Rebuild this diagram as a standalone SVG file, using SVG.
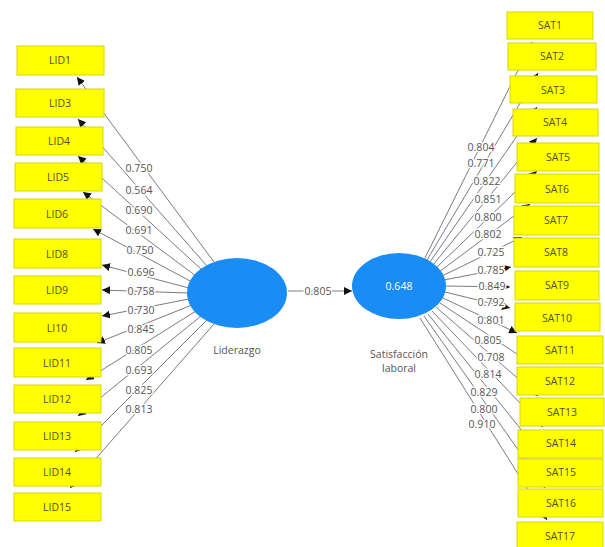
<svg xmlns="http://www.w3.org/2000/svg" width="605" height="547" viewBox="0 0 605 547">
<style>
.box{fill:#ffff00;stroke:#d6d600;stroke-width:1}
.bt{font-family:"Open Sans","DejaVu Sans",sans-serif;font-size:10.5px;fill:#505020;text-anchor:middle;dominant-baseline:central}
.ln{stroke:#7a7a86;stroke-width:1;fill:none;marker-end:url(#ah)}
.lb{font-family:"Open Sans","DejaVu Sans",sans-serif;font-size:10.5px;fill:#555;text-anchor:middle;dominant-baseline:central;stroke:#fff;stroke-width:3px;paint-order:stroke;stroke-linejoin:round}
.lv{fill:#1a8cf5}
.nl{font-family:"Open Sans","DejaVu Sans",sans-serif;font-size:10.5px;fill:#555;text-anchor:middle}
</style>
<defs>
<marker id="ah" viewBox="0 0 10 10" refX="10" refY="5" markerWidth="8" markerHeight="8" markerUnits="userSpaceOnUse" orient="auto">
<path d="M0,0 L10,5 L0,10 z" fill="#111"/>
</marker>
</defs>
<rect width="605" height="547" fill="#fff"/>
<g id="connectors">
<line class="ln" x1="214" y1="262" x2="77" y2="77"/>
<line class="ln" x1="207" y1="266" x2="78" y2="119"/>
<line class="ln" x1="202" y1="270" x2="78" y2="156"/>
<line class="ln" x1="196" y1="276" x2="83" y2="192"/>
<line class="ln" x1="192" y1="282" x2="93" y2="229"/>
<line class="ln" x1="189" y1="288" x2="102" y2="265"/>
<line class="ln" x1="188" y1="293" x2="102" y2="290"/>
<line class="ln" x1="189" y1="299" x2="102" y2="316"/>
<line class="ln" x1="192" y1="305" x2="97" y2="343"/>
<line class="ln" x1="196" y1="311" x2="86" y2="380"/>
<line class="ln" x1="201" y1="316" x2="78" y2="416"/>
<line class="ln" x1="207" y1="320" x2="75" y2="452"/>
<line class="ln" x1="214" y1="324" x2="70" y2="488"/>
<line class="ln" x1="425" y1="258" x2="532" y2="42"/>
<line class="ln" x1="427" y1="260" x2="538" y2="73"/>
<line class="ln" x1="430" y1="262" x2="537" y2="107"/>
<line class="ln" x1="433" y1="265" x2="537" y2="138"/>
<line class="ln" x1="436" y1="268" x2="537" y2="171"/>
<line class="ln" x1="439" y1="272" x2="530" y2="204"/>
<line class="ln" x1="442" y1="276" x2="522" y2="237"/>
<line class="ln" x1="444" y1="280" x2="511" y2="267"/>
<line class="ln" x1="446" y1="286" x2="510" y2="287"/>
<line class="ln" x1="445" y1="292" x2="510" y2="308"/>
<line class="ln" x1="443" y1="298" x2="517" y2="333"/>
<line class="ln" x1="440" y1="303" x2="532" y2="364"/>
<line class="ln" x1="436" y1="307" x2="538" y2="396"/>
<line class="ln" x1="432" y1="311" x2="543" y2="427"/>
<line class="ln" x1="428" y1="314" x2="544" y2="458"/>
<line class="ln" x1="424" y1="316" x2="545" y2="488"/>
<line class="ln" x1="420" y1="318" x2="547" y2="520"/>
<line class="ln" x1="288" y1="291" x2="352" y2="291"/>
</g>
<g id="labels">
<text class="lb" x="139" y="168">0.750</text>
<text class="lb" x="139" y="190">0.564</text>
<text class="lb" x="139" y="210">0.690</text>
<text class="lb" x="139" y="230">0.691</text>
<text class="lb" x="140" y="250">0.750</text>
<text class="lb" x="141" y="272">0.696</text>
<text class="lb" x="141" y="291">0.758</text>
<text class="lb" x="141" y="310">0.730</text>
<text class="lb" x="141" y="329">0.845</text>
<text class="lb" x="139" y="350">0.805</text>
<text class="lb" x="139" y="370">0.693</text>
<text class="lb" x="139" y="390">0.825</text>
<text class="lb" x="139" y="409">0.813</text>
<text class="lb" x="481" y="147">0.804</text>
<text class="lb" x="481" y="163">0.771</text>
<text class="lb" x="487" y="181">0.822</text>
<text class="lb" x="488" y="199">0.851</text>
<text class="lb" x="488" y="217">0.800</text>
<text class="lb" x="488" y="234">0.802</text>
<text class="lb" x="491" y="252">0.725</text>
<text class="lb" x="491" y="270">0.785</text>
<text class="lb" x="492" y="286">0.849</text>
<text class="lb" x="491" y="302">0.792</text>
<text class="lb" x="491" y="320">0.801</text>
<text class="lb" x="488" y="340">0.805</text>
<text class="lb" x="491" y="357">0.708</text>
<text class="lb" x="488" y="374">0.814</text>
<text class="lb" x="484" y="392">0.829</text>
<text class="lb" x="484" y="409">0.800</text>
<text class="lb" x="482" y="424">0.910</text>
<text class="lb" x="318" y="291">0.805</text>
</g>
<g id="Liderazgo">
<ellipse class="lv" cx="237" cy="293" rx="50" ry="35"/>
<text class="nl" x="237" y="354">Liderazgo</text>
</g>
<g id="Satisfaccion">
<ellipse class="lv" cx="399" cy="286" rx="47" ry="33"/>
<text x="399" y="286" font-family="Open Sans, DejaVu Sans, sans-serif" font-size="10.5" fill="#fff" text-anchor="middle" dominant-baseline="central">0.648</text>
<text class="nl" x="399" y="358">Satisfacción</text>
<text class="nl" x="399" y="372">laboral</text>
</g>
<g id="LID1"><rect class="box" x="17" y="46" width="87" height="29"/><text class="bt" x="60" y="60">LID1</text></g>
<g id="LID3"><rect class="box" x="16" y="89" width="88" height="28"/><text class="bt" x="60" y="103">LID3</text></g>
<g id="LID4"><rect class="box" x="16" y="127" width="87" height="28"/><text class="bt" x="59" y="141">LID4</text></g>
<g id="LID5"><rect class="box" x="15" y="163" width="87" height="28"/><text class="bt" x="58" y="177">LID5</text></g>
<g id="LID6"><rect class="box" x="14" y="199" width="87" height="29"/><text class="bt" x="57" y="214">LID6</text></g>
<g id="LID8"><rect class="box" x="14" y="239" width="87" height="29"/><text class="bt" x="57" y="254">LID8</text></g>
<g id="LID9"><rect class="box" x="14" y="276" width="87" height="28"/><text class="bt" x="57" y="290">LID9</text></g>
<g id="LI10"><rect class="box" x="14" y="313" width="87" height="29"/><text class="bt" x="57" y="328">LI10</text></g>
<g id="LID11"><rect class="box" x="14" y="348" width="87" height="29"/><text class="bt" x="57" y="363">LID11</text></g>
<g id="LID12"><rect class="box" x="14" y="385" width="87" height="28"/><text class="bt" x="57" y="399">LID12</text></g>
<g id="LID13"><rect class="box" x="14" y="422" width="87" height="28"/><text class="bt" x="57" y="436">LID13</text></g>
<g id="LID14"><rect class="box" x="14" y="458" width="87" height="28"/><text class="bt" x="57" y="472">LID14</text></g>
<g id="LID15"><rect class="box" x="14" y="493" width="87" height="28"/><text class="bt" x="57" y="507">LID15</text></g>
<g id="SAT1"><rect class="box" x="507" y="12" width="86" height="27"/><text class="bt" x="550" y="25">SAT1</text></g>
<g id="SAT2"><rect class="box" x="508" y="43" width="88" height="27"/><text class="bt" x="552" y="56">SAT2</text></g>
<g id="SAT3"><rect class="box" x="510" y="76" width="87" height="27"/><text class="bt" x="553" y="90">SAT3</text></g>
<g id="SAT4"><rect class="box" x="513" y="109" width="85" height="27"/><text class="bt" x="555" y="122">SAT4</text></g>
<g id="SAT5"><rect class="box" x="517" y="143" width="82" height="28"/><text class="bt" x="558" y="157">SAT5</text></g>
<g id="SAT6"><rect class="box" x="515" y="174" width="84" height="29"/><text class="bt" x="557" y="189">SAT6</text></g>
<g id="SAT7"><rect class="box" x="514" y="206" width="85" height="29"/><text class="bt" x="556" y="220">SAT7</text></g>
<g id="SAT8"><rect class="box" x="514" y="238" width="85" height="29"/><text class="bt" x="556" y="252">SAT8</text></g>
<g id="SAT9"><rect class="box" x="515" y="271" width="84" height="29"/><text class="bt" x="557" y="285">SAT9</text></g>
<g id="SAT10"><rect class="box" x="515" y="303" width="85" height="28"/><text class="bt" x="557" y="318">SAT10</text></g>
<g id="SAT11"><rect class="box" x="517" y="336" width="86" height="28"/><text class="bt" x="560" y="350">SAT11</text></g>
<g id="SAT12"><rect class="box" x="517" y="367" width="86" height="28"/><text class="bt" x="560" y="381">SAT12</text></g>
<g id="SAT13"><rect class="box" x="520" y="398" width="84" height="28"/><text class="bt" x="562" y="412">SAT13</text></g>
<g id="SAT14"><rect class="box" x="518" y="430" width="85" height="28"/><text class="bt" x="561" y="443">SAT14</text></g>
<g id="SAT15"><rect class="box" x="518" y="459" width="85" height="28"/><text class="bt" x="561" y="472">SAT15</text></g>
<g id="SAT16"><rect class="box" x="518" y="489" width="85" height="28"/><text class="bt" x="561" y="503">SAT16</text></g>
<g id="SAT17"><rect class="box" x="517" y="522" width="86" height="26"/><text class="bt" x="560" y="536">SAT17</text></g>
</svg>
